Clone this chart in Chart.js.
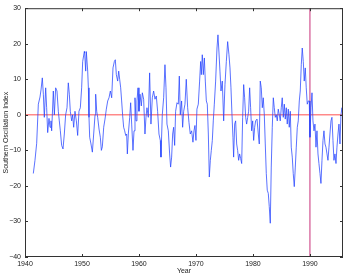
<!DOCTYPE html>
<html lang="en">
<head>
    <meta charset="UTF-8">
    <title>Southern Oscillation Index</title>
    <style>
        html, body { margin: 0; padding: 0; background: #fff; }
        #wrap { width: 346px; height: 277px; position: relative; }
    </style>
</head>
<body>
    <div id="wrap"><canvas id="myChart" width="346" height="277"></canvas></div>

    <script src="https://cdn.jsdelivr.net/npm/chart.js"></script>
    <script>
        // Values (year, index)
        const years = [
            1941.46, 1941.75, 1942.05, 1942.34, 1942.63, 1942.81, 1943.04, 1943.22, 1943.39, 1943.63,
            1943.80, 1943.98, 1944.21, 1944.39, 1944.56, 1944.68, 1944.97, 1945.15, 1945.38, 1945.61,
            1945.85, 1946.02, 1946.20, 1946.43, 1946.67, 1946.90, 1947.13, 1947.37, 1947.60, 1947.78,
            1947.95, 1948.19, 1948.36, 1948.54, 1948.77, 1949.01, 1949.24, 1949.47, 1949.71, 1949.94,
            1950.12, 1950.41, 1950.47, 1950.65, 1950.76, 1951.00, 1951.12, 1951.23, 1951.35, 1951.58,
            1951.82, 1952.05, 1952.29, 1952.40, 1952.58, 1952.75, 1952.99, 1953.22, 1953.40, 1953.57,
            1953.81, 1954.04, 1954.27, 1954.51, 1954.74, 1954.98, 1955.21, 1955.44, 1955.68, 1955.85,
            1956.03, 1956.26, 1956.44, 1956.61, 1956.79, 1956.96, 1957.14, 1957.31, 1957.49, 1957.67,
            1957.84, 1957.96, 1958.13, 1958.37, 1958.54, 1958.72, 1958.95, 1959.13, 1959.30, 1959.48,
            1959.65, 1959.83, 1960.00, 1960.18, 1960.41, 1960.59, 1960.82, 1961.05, 1961.23, 1961.40,
            1961.64, 1961.87, 1962.10, 1962.34, 1962.57, 1962.81, 1963.04, 1963.27, 1963.51, 1963.74,
            1963.86, 1964.09, 1964.33, 1964.56, 1964.74, 1964.91, 1965.15, 1965.38, 1965.55, 1965.73,
            1965.91, 1966.08, 1966.26, 1966.43, 1966.67, 1966.90, 1967.08, 1967.25, 1967.48, 1967.66,
            1967.84, 1968.07, 1968.30, 1968.54, 1968.77, 1969.00, 1969.24, 1969.47, 1969.65, 1969.82,
            1970.00, 1970.17, 1970.41, 1970.64, 1970.82, 1970.94, 1971.11, 1971.29, 1971.47, 1971.64,
            1971.82, 1971.99, 1972.17, 1972.34, 1972.52, 1972.69, 1972.87, 1973.04, 1973.22, 1973.45,
            1973.69, 1973.86, 1974.04, 1974.21, 1974.39, 1974.62, 1974.86, 1975.09, 1975.33, 1975.56,
            1975.79, 1975.97, 1976.14, 1976.32, 1976.49, 1976.61, 1976.79, 1976.96, 1977.14, 1977.31,
            1977.49, 1977.66, 1977.84, 1978.02, 1978.19, 1978.37, 1978.54, 1978.72, 1978.89, 1979.07,
            1979.24, 1979.42, 1979.59, 1979.77, 1979.95, 1980.12, 1980.30, 1980.47, 1980.71, 1980.94,
            1981.11, 1981.28, 1981.46, 1981.64, 1981.81, 1981.99, 1982.16, 1982.34, 1982.51, 1982.69,
            1982.86, 1983.04, 1983.21, 1983.39, 1983.57, 1983.74, 1983.92, 1984.09, 1984.27, 1984.44,
            1984.62, 1984.79, 1984.97, 1985.14, 1985.32, 1985.50, 1985.67, 1985.85, 1986.02, 1986.20,
            1986.37, 1986.55, 1986.72, 1986.90, 1987.07, 1987.25, 1987.43, 1987.60, 1987.78, 1987.95,
            1988.13, 1988.30, 1988.48, 1988.65, 1988.83, 1989.00, 1989.18, 1989.35, 1989.53, 1989.71,
            1989.88, 1990.00, 1990.18, 1990.36, 1990.53, 1990.71, 1990.88, 1991.06, 1991.23, 1991.41,
            1991.58, 1991.76, 1991.93, 1992.11, 1992.29, 1992.46, 1992.64, 1992.81, 1992.99, 1993.16,
            1993.34, 1993.51, 1993.69, 1993.86, 1994.04, 1994.21, 1994.39, 1994.57, 1994.74, 1994.92,
            1995.09, 1995.27, 1995.44, 1995.62, 1995.79
        ];
        const soi = [
            -16.5, -12.8, -8, 3, 5, 7, 10.4, 5.8, -0.7, 7.6,
            2, -5, -1, -3.5, -1.7, -4.5, 6.7, 0, 7.6, 6.7,
            1, -1.7, -4.5, -8.6, -9.6, -5.4, 0, 2, 9, 5.8,
            1, -1.7, 0, -3.5, 1, -1.7, -5.8, 1, 2, 7.6,
            15, 17.8, 17.4, 12.3, 17.8, 12.3, 7.6, -0.7, -6.3, -8.2,
            -10.5, -5.4, 0, 5.8, 1, -0.7, -4, -6.3, -10, -9,
            -3.5, -1.2, 1.6, 3.9, 4.8, 6.7, 4.8, 13.2, 15, 15.5,
            11.3, 9.5, 12.3, 10, 7.6, 3.9, -0.3, -3.5, -4.5, -5.8,
            -5.4, -11, -5.4, -0.7, 3.4, -2.6, -10, -4.5, 4.8, -1.7,
            3.9, 7.6, 1, 5.8, 2.5, 6.2, 4.4, -5.4, -0.7, 2,
            -0.7, 11.8, -2.6, 4.8, 6.7, 4.4, 5.3, 1, -5.4, -7.2,
            -11.9, 0, 4.8, 14.1, 7.6, -2.6, -4.5, -11, -14.7, -11.9,
            -5.4, -3.5, -8.6, 1, 3.4, 3, 10.9, 0, 3.9, -3.5,
            1, 3, 10, 2, -2.1, -5.4, -4.5, -7.7, -4.5, -3,
            -7.2, 1.6, 3, 9.5, 15, 11.3, 16.9, 11.3, 16, 9.5,
            3.9, 3, -5.4, -17.5, -12.8, -10, -7.2, -1.7, 3, 9.5,
            18.8, 22.5, 17.4, 12.3, 6.7, 9.5, -1.7, 8.5, 15, 20.6,
            16.9, 13.2, 7.6, 0, -6.3, -11.9, -2.6, -1.7, -8.2, -10,
            -12.8, -11, -12.3, -13.7, -0.7, 8.5, 4.8, -0.7, -2.6, -0.7,
            1, 7.6, 2, -4.5, -1.7, -7.2, -3.5, -1.7, -1.2, -5.4,
            -8.2, 9.5, 7.6, 2, 4.8, 0, -8.2, -16.5, -21.2, -22.1,
            -25.8, -30.5, -14.7, -3.5, 4.8, 2, -0.7, 0, -1.7, 1.6,
            0, -1.7, 2, 4.8, -0.7, 3, -1.2, 2, -2.6, 1.6,
            -3.5, 1, -9.1, -11.9, -16.5, -20.2, -14.7, -9.1, -3.5, -1.7,
            3.9, 6.7, 14.1, 18.8, 15, 9.5, 13.2, 7.6, 3, 3.9,
            3.9, -6.3, 2, 6.2, -1.7, -4.5, -2.6, -9.1, -4.5, -11,
            -13.7, -16.5, -19.3, -12.8, -7.2, -4.5, -8.2, -9.1, -11, -12.8,
            -9.1, -5.4, -1.7, -0.7, -7.2, -12.8, -11, -13.7, -9.1, -5.4,
            -2.6, -8.2, 0, 2, -0.7
        ];
        const xTicks = [1940, 1950, 1960, 1970, 1980, 1990];
        const yTicks = [-40, -30, -20, -10, 0, 10, 20, 30];
        const xMin = 1940, xMax = 1995.8;
        const yMin = -40, yMax = 30;
        const markYear = 1990;

        const FONT = '"Liberation Sans", Arial, sans-serif';

        // inward ticks + box on all four sides, plus axis titles
        const frame = {
            id: 'frame',
            afterDraw(chart) {
                const { ctx, chartArea: a, scales } = chart;
                ctx.save();
                ctx.strokeStyle = '#333';
                ctx.lineWidth = 1;
                ctx.strokeRect(a.left + 0.5, a.top + 0.5, a.right - a.left - 1, a.bottom - a.top - 1);
                ctx.beginPath();
                xTicks.forEach(t => {
                    const px = Math.round(scales.x.getPixelForValue(t)) + 0.5;
                    ctx.moveTo(px, a.bottom); ctx.lineTo(px, a.bottom - 3);
                    ctx.moveTo(px, a.top); ctx.lineTo(px, a.top + 3);
                });
                yTicks.forEach(t => {
                    const py = Math.round(scales.y.getPixelForValue(t)) + 0.5;
                    ctx.moveTo(a.left, py); ctx.lineTo(a.left + 3, py);
                    ctx.moveTo(a.right, py); ctx.lineTo(a.right - 3, py);
                });
                ctx.stroke();

                ctx.fillStyle = '#222';
                ctx.font = '7px ' + FONT;
                ctx.textAlign = 'center';
                ctx.textBaseline = 'middle';
                ctx.fillText('Year', (a.left + a.right) / 2, 271);
                ctx.translate(6, (a.top + a.bottom) / 2);
                ctx.rotate(-Math.PI / 2);
                ctx.fillText('Southern Oscillation Index', 0, 0);
                ctx.restore();
            }
        };

        const config = {
            type: 'line',
            data: {
                datasets: [
                    {
                        data: years.map((y, i) => ({ x: y, y: soi[i] })),
                        borderColor: 'rgba(40, 70, 255, 0.85)',
                        borderWidth: 0.9,
                        pointRadius: 0,
                        tension: 0
                    },
                    {
                        data: [{ x: xMin, y: 0 }, { x: xMax, y: 0 }],
                        borderColor: '#ff5050',
                        borderWidth: 1,
                        pointRadius: 0
                    },
                    {
                        data: [{ x: markYear, y: yMin }, { x: markYear, y: yMax }],
                        borderColor: '#c8307a',
                        borderWidth: 1,
                        pointRadius: 0
                    }
                ]
            },
            options: {
                responsive: false,
                animation: false,
                events: [],
                layout: { padding: { top: 6, right: 3, left: 0, bottom: 0 } },
                plugins: { legend: { display: false }, tooltip: { enabled: false } },
                scales: {
                    x: {
                        type: 'linear',
                        min: xMin,
                        max: xMax,
                        afterBuildTicks: s => { s.ticks = xTicks.map(v => ({ value: v })); },
                        afterFit: s => { s.height = 20; },
                        grid: { display: false, drawTicks: false },
                        border: { display: false },
                        ticks: {
                            padding: 3,
                            maxRotation: 0,
                            color: '#222',
                            font: { family: FONT, size: 7 },
                            callback: v => String(v)
                        }
                    },
                    y: {
                        min: yMin,
                        max: yMax,
                        afterBuildTicks: s => { s.ticks = yTicks.map(v => ({ value: v })); },
                        afterFit: s => { s.width = 25; },
                        grid: { display: false, drawTicks: false },
                        border: { display: false },
                        ticks: {
                            padding: 4,
                            color: '#222',
                            font: { family: FONT, size: 7 },
                            callback: v => (v < 0 ? '\u2212' + Math.abs(v) : String(v))
                        }
                    }
                }
            },
            plugins: [frame]
        };

        const myChart = new Chart(document.getElementById('myChart'), config);
    </script>
</body>
</html>
